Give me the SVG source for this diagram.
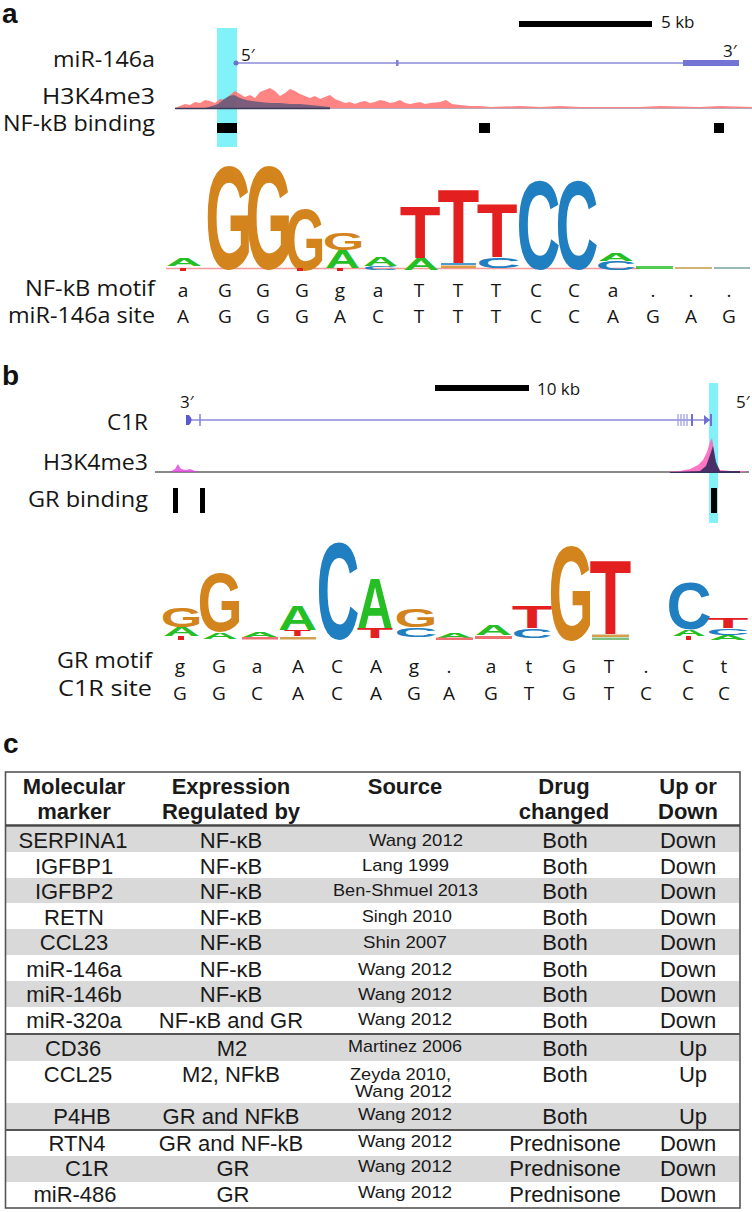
<svg xmlns="http://www.w3.org/2000/svg" width="752" height="1212" viewBox="0 0 752 1212">
<style>
.pl{font-family:"Liberation Sans",Arial,sans-serif;font-weight:bold;font-size:28px;fill:#111}
.lb{font-family:"Open Sans","DejaVu Sans",sans-serif;font-size:21px;fill:#151515;text-anchor:end}
.sm{font-family:"Open Sans","DejaVu Sans",sans-serif;font-size:17px;fill:#151515}
.sq{font-family:"Open Sans","DejaVu Sans",sans-serif;font-size:19px;fill:#151515;text-anchor:middle}
.lg{font-family:"Liberation Sans",Arial,sans-serif;font-weight:bold;font-size:100px;text-anchor:middle}
.G{fill:#d4841c}.T{fill:#e3201f}.C{fill:#1f7fc0}.A{fill:#25bf25}
.th{font-family:"Liberation Sans",Arial,sans-serif;font-weight:bold;font-size:22px;fill:#1a1a1a;text-anchor:middle}
.td{font-family:"Liberation Sans",Arial,sans-serif;font-size:22px;fill:#1a1a1a;text-anchor:middle}
.ts{font-family:"Liberation Sans",Arial,sans-serif;font-size:17px;fill:#1a1a1a}
.band{fill:#d9d9d9}
.gene{stroke:#8a8ad8;fill:none}
</style>

<!-- Panel a -->
<g id="panel-a">
  <text class="pl" x="2" y="23">a</text>
  <rect x="217" y="28" width="20" height="119" fill="#80f2f8"/>
  <rect x="519" y="21" width="133" height="6" fill="#000"/>
  <text class="sm" x="661" y="28" font-size="18">5 kb</text>
  <text class="lb" x="155" y="67" textLength="102" lengthAdjust="spacingAndGlyphs">miR-146a</text>
  <text class="lb" x="155" y="104" textLength="113" lengthAdjust="spacingAndGlyphs">H3K4me3</text>
  <text class="lb" x="155" y="131" textLength="152" lengthAdjust="spacingAndGlyphs">NF-kB binding</text>
  <text class="sm" x="241" y="61" font-size="16">5′</text>
  <text class="sm" x="723" y="57" font-size="16">3′</text>
  <g id="gene-a">
    <line class="gene" x1="236" y1="63" x2="739" y2="63" stroke-width="1.6"/>
    <circle cx="236" cy="63" r="2.5" fill="#7070d0"/>
    <rect x="396" y="60" width="2.5" height="6" fill="#8080d8"/>
    <rect x="683" y="60" width="56" height="6" fill="#7474d4"/>
  </g>
  <g id="h3k4me3-a">
    <path d="M175,108 L180,106 L185,104 L190,105 L195,102 L200,103 L205,100 L210,101 L215,103 L220,99 L225,100 L230,95 L235,91 L240,94 L245,97 L250,95 L255,98 L260,92 L265,90 L270,88 L275,91 L280,96 L285,93 L290,89 L295,91 L300,94 L305,96 L310,98 L315,96 L320,99 L325,97 L330,95 L335,99 L340,101 L345,103 L350,102 L355,104 L360,102 L365,101 L370,103 L375,102 L380,100 L385,101 L390,103 L395,102 L400,100 L405,103 L410,104 L415,103 L420,102 L425,104 L430,103 L440,102 L446,100 L452,104 L460,105 L470,106 L480,106 L490,107 L520,106 L540,107 L560,106 L580,107 L640,107 L660,106 L700,107 L720,106 L752,107 L752,109 L175,109 Z" fill="#ff6e6e" opacity="0.85"/>
    <path d="M205,108 L212,106 L218,104 L224,99 L229,96 L234,95 L240,98 L246,100 L252,101 L260,102 L270,103 L280,103 L290,104 L300,104 L310,105 L320,106 L330,107 L330,108 Z" fill="#50507a" opacity="0.75"/>
    <line x1="175" y1="108.5" x2="330" y2="108.5" stroke="#3a3a5a" stroke-width="1.5"/>
    <line x1="330" y1="108.5" x2="752" y2="108.5" stroke="#b8a8b8" stroke-width="1.2"/>
  </g>
  <g id="nfkb-binding" fill="#000">
    <rect x="217" y="123" width="20" height="10"/>
    <rect x="479" y="123" width="11" height="10"/>
    <rect x="714" y="123" width="10" height="10"/>
  </g>
  <g id="logo-a">
    <line x1="166" y1="268.5" x2="640" y2="268.5" stroke="#f07070" stroke-width="1.5" opacity="0.7"/>
    <text class="lg A" transform="translate(184,266) scale(0.5,0.112)">A</text>
    <text class="lg G" transform="translate(229,269.2) scale(0.609,1.459)">G</text>
    <text class="lg G" transform="translate(269,269.2) scale(0.609,1.459)">G</text>
    <text class="lg G" transform="translate(305,270) scale(0.522,0.88)">G</text>
    <text class="lg G" transform="translate(343.5,249.7) scale(0.536,0.243)">G</text>
    <text class="lg A" transform="translate(342.5,268) scale(0.486,0.251)">A</text>
    <text class="lg A" transform="translate(380.5,266) scale(0.486,0.126)">A</text>
    <text class="lg C" transform="translate(380.5,270) scale(0.484,0.054)">C</text>
    <text class="lg T" transform="translate(420,258) scale(0.667,0.74)">T</text>
    <text class="lg A" transform="translate(421,270) scale(0.5,0.168)">A</text>
    <text class="lg T" transform="translate(458.5,263) scale(0.684,1.061)">T</text>
    <rect x="441" y="263" width="35" height="2" fill="#1f7fc0" opacity="0.8"/>
    <rect x="441" y="265.5" width="35" height="2.5" fill="#d4841c" opacity="0.8"/>
    <text class="lg T" transform="translate(497,257) scale(0.667,0.768)">T</text>
    <text class="lg C" transform="translate(498.5,268) scale(0.609,0.149)">C</text>
    <text class="lg C" transform="translate(538.5,268.5) scale(0.609,1.257)">C</text>
    <text class="lg C" transform="translate(577,268.5) scale(0.594,1.257)">C</text>
    <text class="lg A" transform="translate(616,261) scale(0.5,0.112)">A</text>
    <text class="lg C" transform="translate(616,270) scale(0.5625,0.122)">C</text>
    <rect x="636" y="266" width="37" height="3" fill="#25bf25" opacity="0.8"/>
    <rect x="675" y="267" width="37" height="2" fill="#c8a050" opacity="0.8"/>
    <rect x="714" y="267" width="36" height="2" fill="#80a8a0" opacity="0.8"/>
    <rect x="180" y="268" width="6" height="3" fill="#e3201f"/>
    <rect x="297" y="268" width="6" height="3" fill="#e3201f"/>
    <rect x="337" y="268" width="6" height="3" fill="#e3201f"/>
  </g>
  <text class="lb" x="155" y="296" textLength="130" lengthAdjust="spacingAndGlyphs">NF-kB motif</text>
  <text class="lb" x="155" y="323" textLength="147" lengthAdjust="spacingAndGlyphs">miR-146a site</text>
  <g id="seq-a">
    <text class="sq" x="183" y="297">a</text><text class="sq" x="225" y="297">G</text><text class="sq" x="263" y="297">G</text><text class="sq" x="302" y="297">G</text><text class="sq" x="340" y="297">g</text><text class="sq" x="378" y="297">a</text><text class="sq" x="419" y="297">T</text><text class="sq" x="458" y="297">T</text><text class="sq" x="496" y="297">T</text><text class="sq" x="536" y="297">C</text><text class="sq" x="574" y="297">C</text><text class="sq" x="613" y="297">a</text><text class="sq" x="653" y="297">.</text><text class="sq" x="691" y="297">.</text><text class="sq" x="729" y="297">.</text>
    <text class="sq" x="183" y="323">A</text><text class="sq" x="225" y="323">G</text><text class="sq" x="263" y="323">G</text><text class="sq" x="302" y="323">G</text><text class="sq" x="340" y="323">A</text><text class="sq" x="378" y="323">C</text><text class="sq" x="419" y="323">T</text><text class="sq" x="458" y="323">T</text><text class="sq" x="496" y="323">T</text><text class="sq" x="536" y="323">C</text><text class="sq" x="574" y="323">C</text><text class="sq" x="613" y="323">A</text><text class="sq" x="653" y="323">G</text><text class="sq" x="691" y="323">A</text><text class="sq" x="729" y="323">G</text>
  </g>
</g>

<!-- Panel b -->
<g id="panel-b">
  <text class="pl" x="2" y="385">b</text>
  <rect x="709" y="383" width="9" height="140" fill="#80f2f8"/>
  <rect x="435" y="385" width="94" height="6" fill="#000"/>
  <text class="sm" x="537" y="395" font-size="18">10 kb</text>
  <text class="sm" x="180" y="408" font-size="16">3′</text>
  <text class="sm" x="736" y="408" font-size="16">5′</text>
  <text class="lb" x="148" y="430" textLength="41" lengthAdjust="spacingAndGlyphs">C1R</text>
  <text class="lb" x="148" y="470" textLength="105" lengthAdjust="spacingAndGlyphs">H3K4me3</text>
  <text class="lb" x="148" y="507" textLength="120" lengthAdjust="spacingAndGlyphs">GR binding</text>
  <g id="gene-b">
    <line class="gene" x1="188" y1="420" x2="712" y2="420" stroke-width="1.3"/>
    <path d="M186,415 L189,415 Q194,420 189,425 L186,425 Z" fill="#5a5ad0"/>
    <line x1="200" y1="414" x2="200" y2="426" stroke="#8080d8" stroke-width="1.5"/>
    <g stroke="#a0a0e0" stroke-width="1.3">
      <line x1="678" y1="414" x2="678" y2="426"/><line x1="681" y1="414" x2="681" y2="426"/><line x1="684" y1="414" x2="684" y2="426"/><line x1="687" y1="414" x2="687" y2="426"/>
    </g>
    <line x1="692" y1="414" x2="692" y2="426" stroke="#7070d0" stroke-width="2"/>
    <path d="M704,415 L710,420 L704,425 Z" fill="#7070d0"/>
    <line x1="711" y1="414" x2="711" y2="426" stroke="#7070d0" stroke-width="2"/>
  </g>
  <g id="h3k4me3-b">
    <line x1="155" y1="472" x2="749" y2="472" stroke="#888" stroke-width="2"/>
    <path d="M170,472 L175,469 L178,464 L181,469 L186,470 L190,469 L195,471 L200,472 Z" fill="#e040e0" opacity="0.8"/>
    <path d="M665,472 L680,471 L690,469 L698,465 L703,460 L707,452 L710,442 L712,438 L714,450 L716,465 L720,470 L730,471 L745,471 L745,472 Z" fill="#ff66bb" opacity="0.9"/>
    <path d="M670,472 L700,471 L706,466 L710,455 L713,446 L716,462 L720,471 L740,471 L740,473 L670,473 Z" fill="#1e1e50" opacity="0.8"/>
  </g>
  <g id="gr-binding" fill="#000">
    <rect x="173" y="488" width="5" height="25"/>
    <rect x="200" y="488" width="5" height="25"/>
    <rect x="711" y="488" width="6" height="25"/>
  </g>
  <g id="logo-b">
    <text class="lg G" transform="translate(181.5,626.7) scale(0.536,0.27)">G</text>
    <text class="lg A" transform="translate(181.5,636) scale(0.514,0.126)">A</text>
    <rect x="178" y="636" width="6" height="4" fill="#e3201f"/>
    <text class="lg G" transform="translate(220,631) scale(0.58,0.838)">G</text>
    <text class="lg A" transform="translate(220,639) scale(0.5,0.098)">A</text>
    <text class="lg A" transform="translate(260,637) scale(0.5,0.07)">A</text>
    <rect x="242" y="637" width="36" height="2.5" fill="#f07070"/>
    <text class="lg A" transform="translate(297.5,630) scale(0.542,0.349)">A</text>
    <text class="lg T" transform="translate(297.5,636) scale(0.44,0.084)">T</text>
    <rect x="280" y="637" width="36" height="2.5" fill="#d4a050"/>
    <text class="lg C" transform="translate(338,639.4) scale(0.594,1.365)">C</text>
    <text class="lg A" transform="translate(375,628) scale(0.5,0.698)">A</text>
    <text class="lg T" transform="translate(375,638) scale(0.596,0.14)">T</text>
    <text class="lg G" transform="translate(416,626.7) scale(0.551,0.257)">G</text>
    <text class="lg C" transform="translate(416,636.8) scale(0.594,0.135)">C</text>
    <text class="lg A" transform="translate(454.5,638) scale(0.514,0.07)">A</text>
    <rect x="436" y="637.5" width="37" height="2.5" fill="#f07070"/>
    <text class="lg A" transform="translate(493.5,635) scale(0.514,0.14)">A</text>
    <rect x="475" y="636" width="37" height="3" fill="#f07070"/>
    <text class="lg T" transform="translate(532,628) scale(0.667,0.307)">T</text>
    <text class="lg C" transform="translate(532,638) scale(0.5625,0.135)">C</text>
    <text class="lg G" transform="translate(571,640.4) scale(0.58,1.338)">G</text>
    <text class="lg T" transform="translate(610.5,634) scale(0.684,1.061)">T</text>
    <rect x="592" y="634.5" width="37" height="2.5" fill="#d4a050"/>
    <rect x="592" y="637.5" width="37" height="2.5" fill="#80c080"/>
    <text class="lg C" transform="translate(689,629.2) scale(0.625,0.676)">C</text>
    <text class="lg A" transform="translate(689,636) scale(0.472,0.084)">A</text>
    <rect x="686" y="636" width="5" height="4" fill="#e3201f"/>
    <text class="lg T" transform="translate(728,628) scale(0.667,0.14)">T</text>
    <text class="lg C" transform="translate(728,635) scale(0.594,0.095)">C</text>
    <text class="lg A" transform="translate(728,640) scale(0.528,0.07)">A</text>
  </g>
  <text class="lb" x="152" y="668" textLength="95" lengthAdjust="spacingAndGlyphs">GR motif</text>
  <text class="lb" x="152" y="696" textLength="94" lengthAdjust="spacingAndGlyphs">C1R site</text>
  <g id="seq-b">
    <text class="sq" x="180" y="673">g</text><text class="sq" x="219" y="673">G</text><text class="sq" x="257" y="673">a</text><text class="sq" x="298" y="673">A</text><text class="sq" x="337" y="673">C</text><text class="sq" x="376" y="673">A</text><text class="sq" x="414" y="673">g</text><text class="sq" x="449" y="673">.</text><text class="sq" x="491" y="673">a</text><text class="sq" x="529" y="673">t</text><text class="sq" x="569" y="673">G</text><text class="sq" x="609" y="673">T</text><text class="sq" x="646" y="673">.</text><text class="sq" x="688" y="673">C</text><text class="sq" x="724" y="673">t</text>
    <text class="sq" x="180" y="700">G</text><text class="sq" x="219" y="700">G</text><text class="sq" x="257" y="700">C</text><text class="sq" x="298" y="700">A</text><text class="sq" x="337" y="700">C</text><text class="sq" x="376" y="700">A</text><text class="sq" x="414" y="700">G</text><text class="sq" x="449" y="700">A</text><text class="sq" x="491" y="700">G</text><text class="sq" x="529" y="700">T</text><text class="sq" x="569" y="700">G</text><text class="sq" x="609" y="700">T</text><text class="sq" x="646" y="700">C</text><text class="sq" x="688" y="700">C</text><text class="sq" x="724" y="700">C</text>
  </g>
</g>

<!-- Panel c -->
<g id="panel-c">
  <text class="pl" x="3" y="753">c</text>
  <g id="bands">
    <rect class="band" x="6" y="827" width="733" height="25"/>
    <rect class="band" x="6" y="878" width="733" height="25"/>
    <rect class="band" x="6" y="929" width="733" height="26"/>
    <rect class="band" x="6" y="981" width="733" height="26"/>
    <rect class="band" x="6" y="1035" width="733" height="26"/>
    <rect class="band" x="6" y="1103" width="733" height="26"/>
    <rect class="band" x="6" y="1156" width="733" height="26"/>
  </g>
  <g id="table-lines" stroke="#555" fill="none">
    <rect x="5.5" y="772" width="734.5" height="436" stroke-width="1.6"/>
    <line x1="5.5" y1="825.5" x2="740" y2="825.5" stroke-width="2.5" stroke="#444"/>
    <line x1="5.5" y1="1034" x2="740" y2="1034" stroke-width="2"/>
    <line x1="5.5" y1="1130" x2="740" y2="1130" stroke-width="2"/>
  </g>
  <g id="header">
    <text class="th" x="74" y="794">Molecular</text><text class="th" x="74" y="819">marker</text>
    <text class="th" x="231" y="794">Expression</text><text class="th" x="231" y="819">Regulated by</text>
    <text class="th" x="405" y="794">Source</text>
    <text class="th" x="564" y="794">Drug</text><text class="th" x="564" y="819">changed</text>
    <text class="th" x="688" y="794">Up or</text><text class="th" x="688" y="819">Down</text>
  </g>
  <g id="rows">
    <text class="td" x="73" y="848">SERPINA1</text><text class="td" x="231" y="848">NF-κB</text><text class="ts" x="369" y="846" textLength="94" lengthAdjust="spacingAndGlyphs">Wang 2012</text><text class="td" x="565" y="848">Both</text><text class="td" x="688" y="848">Down</text>
    <text class="td" x="74" y="874">IGFBP1</text><text class="td" x="231" y="874">NF-κB</text><text class="ts" x="362" y="871" textLength="87" lengthAdjust="spacingAndGlyphs">Lang 1999</text><text class="td" x="565" y="874">Both</text><text class="td" x="688" y="874">Down</text>
    <text class="td" x="74" y="899">IGFBP2</text><text class="td" x="231" y="899">NF-κB</text><text class="ts" x="333" y="896" textLength="145" lengthAdjust="spacingAndGlyphs">Ben-Shmuel 2013</text><text class="td" x="565" y="899">Both</text><text class="td" x="688" y="899">Down</text>
    <text class="td" x="74" y="925">RETN</text><text class="td" x="231" y="925">NF-κB</text><text class="ts" x="362" y="922" textLength="90" lengthAdjust="spacingAndGlyphs">Singh 2010</text><text class="td" x="565" y="925">Both</text><text class="td" x="688" y="925">Down</text>
    <text class="td" x="74" y="950">CCL23</text><text class="td" x="231" y="950">NF-κB</text><text class="ts" x="363" y="948" textLength="84" lengthAdjust="spacingAndGlyphs">Shin 2007</text><text class="td" x="565" y="950">Both</text><text class="td" x="688" y="950">Down</text>
    <text class="td" x="74" y="977">miR-146a</text><text class="td" x="231" y="977">NF-κB</text><text class="ts" x="358" y="975" textLength="94" lengthAdjust="spacingAndGlyphs">Wang 2012</text><text class="td" x="565" y="977">Both</text><text class="td" x="688" y="977">Down</text>
    <text class="td" x="74" y="1002">miR-146b</text><text class="td" x="231" y="1002">NF-κB</text><text class="ts" x="358" y="1000" textLength="94" lengthAdjust="spacingAndGlyphs">Wang 2012</text><text class="td" x="565" y="1002">Both</text><text class="td" x="688" y="1002">Down</text>
    <text class="td" x="74" y="1028">miR-320a</text><text class="td" x="231" y="1028">NF-κB and GR</text><text class="ts" x="358" y="1025" textLength="94" lengthAdjust="spacingAndGlyphs">Wang 2012</text><text class="td" x="565" y="1028">Both</text><text class="td" x="688" y="1028">Down</text>
    <text class="td" x="73" y="1056">CD36</text><text class="td" x="232" y="1056">M2</text><text class="ts" x="348" y="1052" font-size="16" textLength="114" lengthAdjust="spacingAndGlyphs">Martinez 2006</text><text class="td" x="565" y="1056">Both</text><text class="td" x="693" y="1056">Up</text>
    <text class="td" x="78" y="1082">CCL25</text><text class="td" x="231" y="1082">M2, NFkB</text><text class="ts" x="350" y="1080" textLength="101" lengthAdjust="spacingAndGlyphs">Zeyda 2010,</text><text class="ts" x="355" y="1097" textLength="97" lengthAdjust="spacingAndGlyphs">Wang 2012</text><text class="td" x="565" y="1082">Both</text><text class="td" x="693" y="1082">Up</text>
    <text class="td" x="82" y="1124">P4HB</text><text class="td" x="231" y="1124">GR and NFkB</text><text class="ts" x="358" y="1120" textLength="94" lengthAdjust="spacingAndGlyphs">Wang 2012</text><text class="td" x="565" y="1124">Both</text><text class="td" x="693" y="1124">Up</text>
    <text class="td" x="77" y="1151">RTN4</text><text class="td" x="231" y="1151">GR and NF-kB</text><text class="ts" x="358" y="1147" textLength="94" lengthAdjust="spacingAndGlyphs">Wang 2012</text><text class="td" x="565" y="1151">Prednisone</text><text class="td" x="688" y="1151">Down</text>
    <text class="td" x="87" y="1176">C1R</text><text class="td" x="233" y="1176">GR</text><text class="ts" x="358" y="1172" textLength="94" lengthAdjust="spacingAndGlyphs">Wang 2012</text><text class="td" x="565" y="1176">Prednisone</text><text class="td" x="688" y="1176">Down</text>
    <text class="td" x="75" y="1202">miR-486</text><text class="td" x="233" y="1202">GR</text><text class="ts" x="358" y="1198" textLength="94" lengthAdjust="spacingAndGlyphs">Wang 2012</text><text class="td" x="565" y="1202">Prednisone</text><text class="td" x="688" y="1202">Down</text>
  </g>
</g>
</svg>
